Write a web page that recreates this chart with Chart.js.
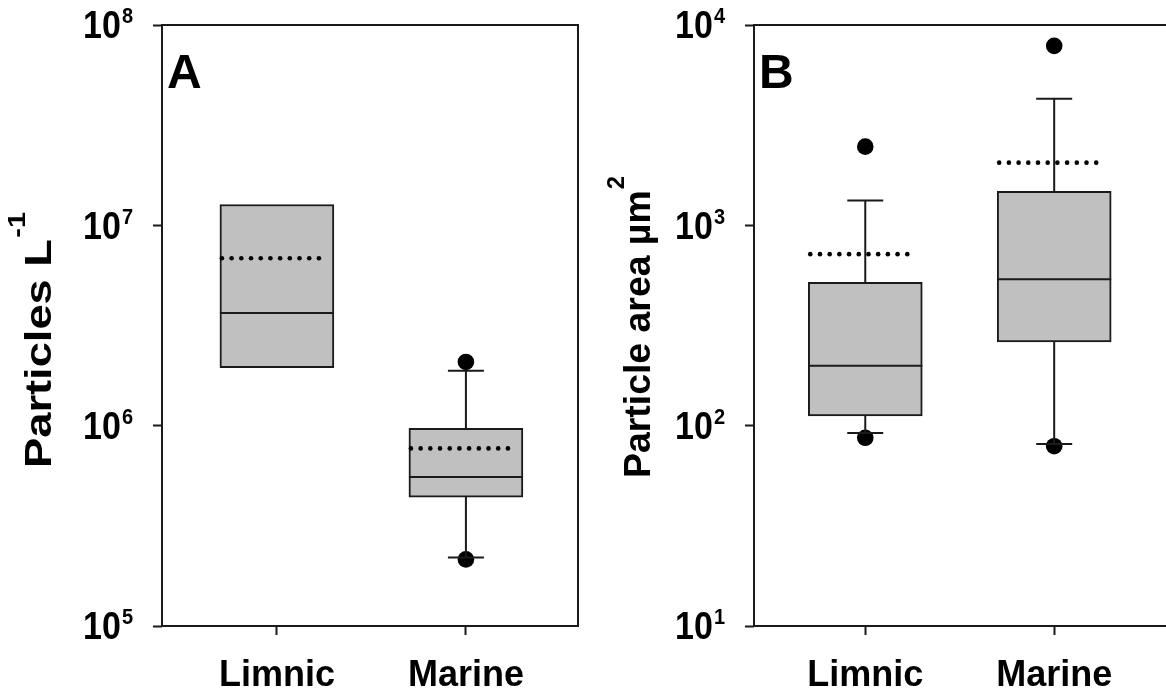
<!DOCTYPE html>
<html>
<head>
<meta charset="utf-8">
<script src="https://cdn.jsdelivr.net/npm/chart.js@4.4.0/dist/chart.umd.min.js"></script>
<style>
  html, body { margin: 0; padding: 0; background: #fff; overflow: hidden; }
  #wrap { position: relative; width: 1166px; height: 699px; overflow: hidden; }
  .panel { position: absolute; top: 0; width: 590px; height: 699px; }
  #panelA { left: 0; }
  #panelB { left: 590px; }
</style>
</head>
<body>
<div id="wrap">
  <div class="panel" id="panelA"><canvas id="chartA" width="590" height="699"></canvas></div>
  <div class="panel" id="panelB"><canvas id="chartB" width="590" height="699"></canvas></div>
</div>
<script>
var groups = ['Limnic', 'Marine'];

// A - particle counts per litre
var countQ1 = [1.95e6, 4.4e5];
var countQ3 = [1.27e7, 9.7e5];
var countMedian = [3.65e6, 5.55e5];
var countMean = [6.85e6, 7.7e5];
var countWhiskerLow = [null, 2.2e5];
var countWhiskerHigh = [null, 1.88e6];
var countOutliers = [[], [2.08e6, 2.15e5]];
var countTicks = [1e5, 1e6, 1e7, 1e8];

// B - particle area
var areaQ1 = [112, 262];
var areaQ3 = [520, 1480];
var areaMedian = [199, 538];
var areaMean = [718, 2055];
var areaWhiskerLow = [92, 81];
var areaWhiskerHigh = [1330, 4290];
var areaOutliers = [[2470, 87], [7870, 79]];
var areaTicks = [1e1, 1e2, 1e3, 1e4];

var FONT = "'Liberation Sans', Arial, sans-serif";
var INK = '#1a1a1a';

// medians, means, whiskers, frame and the hand-set texts
var boxExtras = {
    id: 'boxExtras',
    beforeDatasetsDraw: function (chart) {
        var p = chart.options.plugins.boxExtras;
        var a = chart.chartArea;
        var ctx = chart.ctx;
        ctx.save();
        ctx.strokeStyle = INK;
        ctx.lineWidth = 2;
        if (p.openRight) {
            ctx.beginPath();
            ctx.moveTo(a.right + 20, a.top);
            ctx.lineTo(a.left, a.top);
            ctx.lineTo(a.left, a.bottom);
            ctx.lineTo(a.right + 20, a.bottom);
            ctx.stroke();
        } else {
            ctx.strokeRect(a.left, a.top, a.right - a.left, a.bottom - a.top);
        }
        ctx.restore();
    },
    afterDatasetsDraw: function (chart) {
        var p = chart.options.plugins.boxExtras;
        var ctx = chart.ctx;
        var ys = chart.scales.y;
        var boxes = chart.getDatasetMeta(0).data;
        ctx.save();
        ctx.strokeStyle = INK;
        ctx.lineWidth = 2;
        boxes.forEach(function (bar, i) {
            var half = bar.width / 2;
            var x = bar.x;
            var yMed = ys.getPixelForValue(p.median[i]);
            ctx.beginPath();
            ctx.moveTo(x - half, yMed);
            ctx.lineTo(x + half, yMed);
            ctx.stroke();

            if (p.high[i] != null) {
                var yTop = ys.getPixelForValue(p.q3[i]);
                var yHi = ys.getPixelForValue(p.high[i]);
                ctx.beginPath();
                ctx.moveTo(x, yTop);
                ctx.lineTo(x, yHi);
                ctx.moveTo(x - 18, yHi);
                ctx.lineTo(x + 18, yHi);
                ctx.stroke();
            }
            if (p.low[i] != null) {
                var yBot = ys.getPixelForValue(p.q1[i]);
                var yLo = ys.getPixelForValue(p.low[i]);
                ctx.beginPath();
                ctx.moveTo(x, yBot);
                ctx.lineTo(x, yLo);
                ctx.moveTo(x - 18, yLo);
                ctx.lineTo(x + 18, yLo);
                ctx.stroke();
            }

            // mean as a dotted line
            var yMean = ys.getPixelForValue(p.mean[i]);
            ctx.save();
            ctx.fillStyle = '#000';
            for (var dx = 2; dx <= bar.width - 6; dx += 9.7) {
                ctx.beginPath();
                ctx.arc(x - half + dx, yMean, 2.3, 0, Math.PI * 2);
                ctx.fill();
            }
            ctx.restore();
        });
        ctx.restore();
    },
    afterDraw: function (chart) {
        var p = chart.options.plugins.boxExtras;
        var ctx = chart.ctx;
        var a = chart.chartArea;
        var ys = chart.scales.y;
        ctx.save();
        ctx.fillStyle = '#000';
        ctx.textBaseline = 'alphabetic';

        // decade labels 10^n, slightly tall like the rest of the lettering
        p.ticks.forEach(function (v) {
            var y = ys.getPixelForValue(v);
            var exp = String(Math.round(Math.log10(v)));
            ctx.font = 'bold 20px ' + FONT;
            var ew = ctx.measureText(exp).width;
            ctx.font = 'bold 34px ' + FONT;
            var mw = ctx.measureText('10').width;
            var right = a.left - 30;
            var x0 = right - ew - mw;
            ctx.save();
            ctx.translate(0, y);
            ctx.scale(1, 1.12);
            ctx.fillText('10', x0, 12);
            ctx.font = 'bold 20px ' + FONT;
            ctx.fillText(exp, x0 + mw + 1, -1.5);
            ctx.restore();
        });

        // axis title with superscript, stretched along its length to fill titleLength
        ctx.save();
        ctx.translate(a.left - p.titleOffset, p.titleY);
        ctx.rotate(-Math.PI / 2);
        ctx.font = 'bold 36px ' + FONT;
        var tw = ctx.measureText(p.title).width;
        ctx.font = 'bold 23px ' + FONT;
        var sw = ctx.measureText(p.titleSup).width;
        var k = p.titleLength / (tw + sw + 1);
        ctx.scale(k, 1);
        var start = -(tw + sw + 1) / 2;
        ctx.font = 'bold 36px ' + FONT;
        ctx.fillText(p.title, start, 0);
        ctx.font = 'bold 23px ' + FONT;
        ctx.fillText(p.titleSup, start + tw + 1, -26);
        ctx.restore();

        // panel letter
        ctx.font = 'bold 48px ' + FONT;
        ctx.fillText(p.letter, a.left + 5, 88);
        ctx.restore();
    }
};

function makePanel(canvasId, cfg) {
    var boxData = groups.map(function (g, i) {
        return { x: i + 1, y: [cfg.q1[i], cfg.q3[i]] };
    });
    var dots = [];
    cfg.outliers.forEach(function (list, i) {
        list.forEach(function (v) { dots.push({ x: i + 1, y: v }); });
    });

    return new Chart(document.getElementById(canvasId), {
        type: 'bar',
        data: {
            datasets: [{
                type: 'bar',
                data: boxData,
                backgroundColor: '#c0c0c0',
                borderColor: INK,
                borderWidth: 2,
                borderSkipped: false,
                barThickness: 114,
                order: 2
            }, {
                type: 'scatter',
                data: dots,
                pointRadius: 8.3,
                pointBackgroundColor: '#000',
                pointBorderWidth: 0,
                order: 1
            }]
        },
        plugins: [boxExtras],
        options: {
            responsive: false,
            animation: false,
            layout: { padding: { top: 25, right: cfg.padRight, left: 0, bottom: 0 } },
            plugins: {
                legend: { display: false },
                tooltip: { enabled: false },
                boxExtras: {
                    q1: cfg.q1, q3: cfg.q3, median: cfg.median, mean: cfg.mean,
                    low: cfg.low, high: cfg.high, ticks: cfg.ticks,
                    title: cfg.title, titleSup: cfg.titleSup, titleY: cfg.titleY,
                    titleOffset: cfg.titleOffset, titleLength: cfg.titleLength,
                    letter: cfg.letter, openRight: cfg.openRight
                }
            },
            scales: {
                x: {
                    type: 'linear',
                    offset: false,
                    min: cfg.xMin,
                    max: cfg.xMax,
                    afterBuildTicks: function (scale) {
                        scale.ticks = groups.map(function (g, i) { return { value: i + 1 }; });
                    },
                    afterFit: function (scale) {
                        // labels sit well inside the frame, no side padding needed
                        scale.height = 73;
                        scale.paddingLeft = 0;
                        scale.paddingRight = 0;
                    },
                    grid: { offset: false, drawOnChartArea: false, tickLength: 9, tickWidth: 2, tickColor: INK },
                    border: { display: false },
                    ticks: {
                        padding: 19,
                        color: '#000',
                        font: { family: FONT, weight: 'bold', size: 36 },
                        callback: function (v) { return groups[v - 1]; }
                    }
                },
                y: {
                    type: 'logarithmic',
                    min: cfg.ticks[0],
                    max: cfg.ticks[cfg.ticks.length - 1],
                    afterBuildTicks: function (scale) {
                        scale.ticks = cfg.ticks.map(function (v) { return { value: v }; });
                    },
                    afterFit: function (scale) { scale.width = cfg.axisWidth; },
                    grid: { drawOnChartArea: false, tickLength: 9, tickWidth: 2, tickColor: INK },
                    border: { display: false },
                    ticks: { display: false }
                }
            }
        }
    });
}

makePanel('chartA', {
    q1: countQ1, q3: countQ3, median: countMedian, mean: countMean,
    low: countWhiskerLow, high: countWhiskerHigh, outliers: countOutliers,
    ticks: countTicks, title: 'Particles L', titleSup: '-1', titleY: 340,
    titleOffset: 111, titleLength: 256, letter: 'A', axisWidth: 162, padRight: 12,
    xMin: 0.392, xMax: 2.593, openRight: false
});

// the right side of this frame falls past the page edge
makePanel('chartB', {
    q1: areaQ1, q3: areaQ3, median: areaMedian, mean: areaMean,
    low: areaWhiskerLow, high: areaWhiskerHigh, outliers: areaOutliers,
    ticks: areaTicks, title: 'Particle area µm', titleSup: '2', titleY: 327,
    titleOffset: 104, titleLength: 302, letter: 'B', axisWidth: 164, padRight: 6,
    xMin: 0.411, xMax: 2.622, openRight: true
});
</script>
</body>
</html>
